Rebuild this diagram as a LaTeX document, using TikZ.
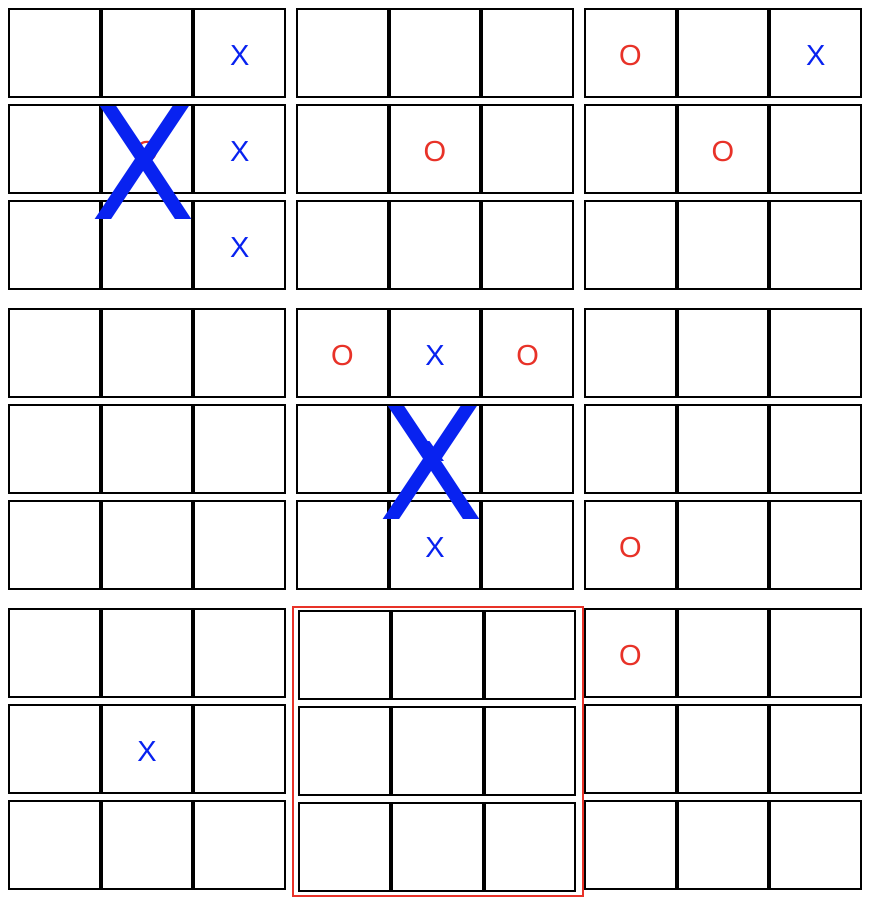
\documentclass[tikz,border=0pt]{standalone}
\usepackage{fontspec}
\setmainfont{Liberation Sans}
\newfontfamily\bigxfont{DejaVu Sans}
\definecolor{xblue}{RGB}{8,34,240}
\definecolor{ored}{RGB}{232,50,40}
\begin{document}
\begin{tikzpicture}[x=1pt,y=-1pt,
 cell/.style={draw=black,line width=2pt,minimum width=90.67pt,minimum height=87.7pt,inner sep=0pt},
 xmark/.style={text=xblue,font=\fontsize{29}{29}\selectfont,inner sep=0pt},
 omark/.style={text=ored,font=\fontsize{29}{29}\selectfont,inner sep=0pt},
 bigx/.style={text=xblue,font=\bigxfont\fontsize{155}{155}\selectfont,inner sep=0pt},
 highlight/.style={draw=ored,line width=2pt}]
\useasboundingbox (0,0) rectangle (876,910);
\fill[white] (0,0) rectangle (876,910);
\foreach \bj in {0,1,2}{
 \foreach \bi in {0,1,2}{
  \pgfmathsetmacro\ox{8+288*\bi+(((\bi==1)&&(\bj==2))?2.3:0)}
  \pgfmathsetmacro\oy{8+300*\bj+(((\bi==1)&&(\bj==2))?2:0)}
  \foreach \r in {0,1,2}{
   \foreach \c in {0,1,2}{
    \node[cell] (b\bi\bj r\r c\c) at ({\ox+46.33+92.67*\c},{\oy+44.85+96*\r}) {};
   }
  }
 }
}
% board 1
\node[xmark] (m1) at ([yshift=-2.3pt]b00r0c2.center) {X};
\node[omark] (m2) at ([yshift=-2.3pt]b00r1c1.center) {O};
\node[xmark] (m3) at ([yshift=-2.3pt]b00r1c2.center) {X};
\node[xmark] (m4) at ([yshift=-2.3pt]b00r2c2.center) {X};
% board 2
\node[omark] (m5) at ([yshift=-2.3pt]b10r1c1.center) {O};
% board 3
\node[omark] (m6) at ([yshift=-2.3pt]b20r0c0.center) {O};
\node[xmark] (m7) at ([yshift=-2.3pt]b20r0c2.center) {X};
\node[omark] (m8) at ([yshift=-2.3pt]b20r1c1.center) {O};
% board 5
\node[omark] (m9) at ([yshift=-2.3pt]b11r0c0.center) {O};
\node[xmark] (m10) at ([yshift=-2.3pt]b11r0c1.center) {X};
\node[omark] (m11) at ([yshift=-2.3pt]b11r0c2.center) {O};
\node[xmark] (m12) at ([yshift=-2.3pt]b11r1c1.center) {X};
\node[xmark] (m13) at ([yshift=-2.3pt]b11r2c1.center) {X};
% board 6
\node[omark] (m14) at ([yshift=-2.3pt]b21r2c0.center) {O};
% board 7
\node[xmark] (m15) at ([yshift=-2.3pt]b02r1c1.center) {X};
% board 9
\node[omark] (m16) at ([yshift=-2.3pt]b22r0c0.center) {O};
% big wins
\node[bigx] (big1) at ([xshift=-3.2pt,yshift=-13.8pt]b00r1c1.center) {X};
\node[bigx] (big2) at ([xshift=-3.2pt,yshift=-13.8pt]b11r1c1.center) {X};
% highlight of the active board
\draw[highlight] ([shift={(-5.3,-3)}]b12r0c0.north west) rectangle ([shift={(6.3,4)}]b12r2c2.south east);
\end{tikzpicture}
\end{document}
